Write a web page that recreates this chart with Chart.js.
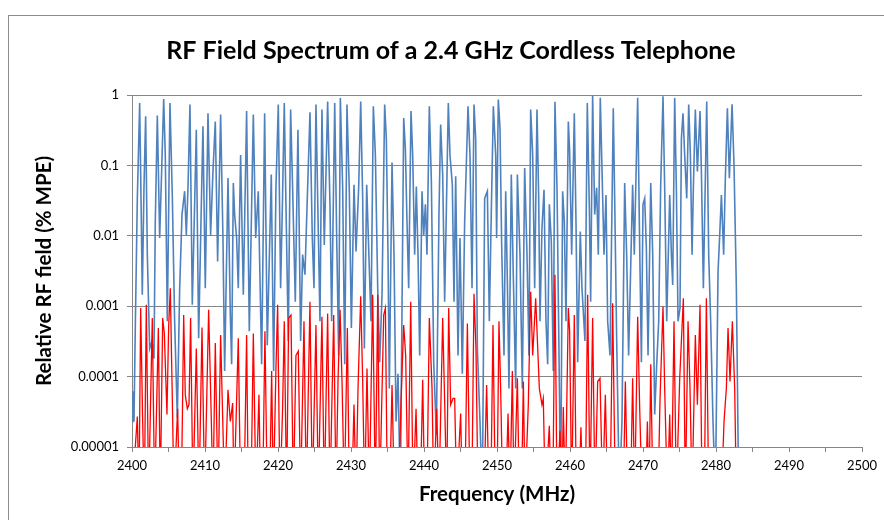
<!DOCTYPE html>
<html><head><meta charset="utf-8">
<script src="https://cdn.jsdelivr.net/npm/chart.js@4.4.1/dist/chart.umd.min.js"></script>
<style>
html,body{margin:0;padding:0;background:#fff;}
#wrap{position:relative;width:884px;height:520px;overflow:hidden;background:#fff;}
#frame{position:absolute;left:8px;top:15px;width:900px;height:600px;border-left:1px solid #8c8c8c;border-top:1px solid #8c8c8c;}
canvas{position:absolute;left:0;top:0;}
</style></head><body>
<div id="wrap"><div id="frame"></div><canvas id="c" width="884" height="520"></canvas></div>
<script>
const chartTitle = 'RF Field Spectrum of a 2.4 GHz Cordless Telephone';
const xTitle = 'Frequency (MHz)';
const yTitle = 'Relative RF field (% MPE)';
const xTickMarks = [2400,2405,2410,2415,2420,2425,2430,2435,2440,2445,2450,2455,2460,2465,2470,2475,2480,2485,2490,2495,2500];
const xTickLabels = [2400,2410,2420,2430,2440,2450,2460,2470,2480,2490,2500];
const yTicks = [1, 0.1, 0.01, 0.001, 0.0001, 0.00001];
const yTickLabels = ['1','0.1','0.01','0.001','0.0001','0.00001'];

// [frequency MHz, relative field]
const bluePoints = [
[2400.00,2.3e-5],[2400.13,6.2e-5],[2400.27,2.3e-5],[2400.45,4.9e-4],[2400.73,0.034],[2401.05,0.77],[2401.28,0.016],[2401.41,0.00145],[2401.64,0.048],[2401.87,0.50],
[2402.10,0.0054],[2402.42,0.00025],[2402.74,0.00032],[2403.01,0.00018],[2403.19,0.016],[2403.47,0.51],[2403.79,0.0093],[2404.06,0.082],[2404.34,0.88],[2404.56,0.14],
[2404.84,0.00061],[2405.20,0.77],[2405.52,0.038],[2405.84,0.00061],[2406.21,2.6e-5],[2406.53,0.0018],[2406.85,0.020],[2407.21,0.043],[2407.44,0.0103],[2407.67,0.048],
[2407.94,0.73],[2408.26,0.00105],[2408.58,0.028],[2408.81,0.32],[2409.13,0.00035],[2409.45,0.016],[2409.72,0.36],[2410.04,0.0018],[2410.41,0.55],[2410.77,0.0103],
[2411.09,0.082],[2411.41,0.42],[2411.73,0.0043],[2412.14,0.53],[2412.46,0.0093],[2412.69,0.00012],[2413.15,0.066],[2413.47,0.00075],[2413.65,0.00015],[2413.88,0.056],
[2414.06,0.020],[2414.33,0.0093],[2414.56,0.0018],[2414.88,0.14],[2415.25,0.00145],[2415.70,0.59],[2416.07,0.00044],[2416.62,0.53],[2416.94,0.0093],[2417.30,0.043],
[2417.76,0.00015],[2418.17,0.55],[2418.53,0.00028],[2419.08,0.074],[2419.40,0.00012],[2419.72,0.048],[2420.04,0.73],[2420.36,0.0018],[2420.63,0.038],[2420.86,0.77],
[2421.09,0.028],[2421.41,0.00032],[2421.73,0.62],[2422.00,0.048],[2422.37,0.00116],[2422.73,0.32],[2423.10,0.00032],[2423.37,0.0054],[2423.69,0.0028],[2424.38,0.57],
[2424.70,0.0093],[2424.93,0.0018],[2425.20,0.73],[2425.52,0.0115],[2425.75,0.00061],[2426.02,0.62],[2426.34,0.0074],[2426.80,0.81],[2427.12,0.028],[2427.35,0.00061],
[2427.77,0.77],[2428.04,0.0093],[2428.31,0.0002],[2428.54,0.91],[2428.86,0.048],[2429.14,0.00015],[2429.45,0.73],[2429.77,0.043],[2430.05,0.00049],[2430.41,0.053],
[2430.69,0.0060],[2431.05,0.048],[2431.33,0.81],[2431.60,0.034],[2431.83,0.00025],[2432.15,0.053],[2432.42,0.0067],[2432.74,0.00061],[2433.06,0.69],[2433.34,0.14],
[2433.66,0.0018],[2433.93,0.00016],[2434.25,0.00145],[2434.61,0.73],[2434.84,0.24],[2435.07,0.0054],[2435.25,6.8e-5],[2435.62,0.11],[2435.89,0.0054],[2436.17,2.3e-5],
[2436.44,0.00011],[2436.76,2e-6],[2437.22,0.47],[2437.45,0.17],[2437.67,0.016],[2437.90,0.0018],[2438.22,0.59],[2438.45,0.14],[2438.72,0.0054],[2438.95,0.050],
[2439.18,0.0054],[2439.41,0.0002],[2439.73,0.043],[2439.96,0.0103],[2440.19,0.028],[2440.41,0.0054],[2440.73,0.69],[2441.01,0.059],[2441.33,0.00016],[2441.69,1.5e-5],
[2442.05,0.020],[2442.28,0.38],[2442.56,0.074],[2442.83,0.00116],[2443.11,0.043],[2443.33,0.77],[2443.56,0.14],[2443.88,0.053],[2444.11,0.00116],[2444.34,0.070],
[2444.66,0.0002],[2444.93,0.0093],[2445.25,0.00011],[2445.57,0.016],[2446.03,0.69],[2446.30,0.14],[2446.58,0.0018],[2446.85,0.73],[2447.08,0.24],[2447.31,0.00025],
[2447.67,2.3e-5],[2447.99,2e-6],[2448.31,0.034],[2448.68,0.043],[2448.95,0.00061],[2449.22,0.022],[2449.50,0.69],[2449.82,0.14],[2449.95,0.0093],[2450.18,0.86],
[2450.41,0.34],[2450.64,0.0074],[2450.96,0.0002],[2451.19,0.043],[2451.42,0.0022],[2451.64,6.8e-5],[2451.96,0.074],[2452.24,0.0025],[2452.56,6.8e-5],[2452.79,0.074],
[2453.15,0.0054],[2453.47,6.8e-5],[2453.79,0.092],[2454.11,0.0054],[2454.38,0.0002],[2454.61,0.62],[2454.89,0.14],[2455.16,0.0018],[2455.48,0.62],[2455.71,0.034],
[2455.89,0.00061],[2456.16,0.013],[2456.44,0.045],[2456.71,0.00061],[2456.94,0.00015],[2457.17,0.028],[2457.44,0.0083],[2457.71,0.00012],[2457.94,0.80],[2458.22,0.048],
[2458.44,0.00061],[2458.72,2e-6],[2458.99,0.043],[2459.22,0.016],[2459.45,0.00061],[2459.77,0.42],[2459.95,0.16],[2460.23,0.0054],[2460.59,0.55],[2460.82,0.016],
[2461.05,0.00016],[2461.41,0.0115],[2461.64,0.0018],[2462.05,0.00032],[2462.37,0.77],[2462.65,0.025],[2462.83,0.00116],[2463.10,0.98],[2463.38,0.020],[2463.65,0.048],
[2463.88,0.0054],[2464.15,0.91],[2464.38,0.092],[2464.66,0.0054],[2464.93,0.038],[2465.16,0.00061],[2465.48,0.0002],[2465.93,0.65],[2466.12,0.034],[2466.39,0.00035],
[2466.76,2e-6],[2467.12,2.3e-5],[2467.49,0.056],[2467.76,0.0054],[2468.03,0.0002],[2468.58,0.053],[2468.81,0.0054],[2469.04,0.070],[2469.27,0.91],[2469.55,0.0067],
[2469.78,0.00016],[2470.00,0.028],[2470.23,0.034],[2470.46,0.0067],[2470.69,0.0002],[2471.06,0.056],[2471.33,0.0054],[2471.60,2.9e-5],[2471.88,0.00015],[2472.15,0.00061],
[2472.42,0.050],[2472.74,0.96],[2472.97,0.048],[2473.25,0.00061],[2473.66,0.038],[2473.89,0.0054],[2474.07,0.0020],[2474.34,0.91],[2474.57,0.048],[2474.80,0.00061],
[2475.07,0.00094],[2475.26,0.24],[2475.48,0.55],[2475.71,0.14],[2475.99,0.034],[2476.26,0.73],[2476.49,0.14],[2476.72,0.0054],[2476.90,0.048],[2477.17,0.62],
[2477.45,0.082],[2477.81,0.59],[2478.00,0.082],[2478.27,0.0018],[2478.73,0.81],[2479.00,0.0054],[2479.27,0.00061],[2479.59,2.3e-5],[2479.91,2e-6],[2480.28,0.0031],
[2480.51,0.0103],[2480.74,0.038],[2481.05,0.0054],[2481.28,0.066],[2481.56,0.65],[2481.83,0.066],[2482.20,0.74],[2482.47,0.10],[2482.79,0.0018],[2483.11,2e-6]
];

const redPoints = [
[2400.00,2e-6],[2400.73,2.7e-5],[2400.96,2e-6],[2401.19,0.00094],[2401.46,2.3e-5],[2401.69,2e-6],[2401.96,0.00105],[2402.28,2e-6],[2402.78,0.00068],[2403.10,2e-6],
[2403.61,0.00049],[2403.88,2e-6],[2404.20,0.00068],[2404.43,0.00041],[2404.79,2.9e-5],[2405.02,0.00051],[2405.25,0.0018],[2405.48,8.5e-5],[2405.75,2e-6],[2406.25,3.5e-5],
[2406.50,2e-6],[2406.76,2e-6],[2407.08,0.00075],[2407.30,5.5e-5],[2407.58,3.5e-5],[2407.81,4e-5],[2408.03,0.00068],[2408.35,2e-6],[2408.81,0.00025],[2409.18,2e-6],
[2409.59,0.0005],[2409.95,2e-6],[2410.50,0.00089],[2410.87,2.3e-5],[2411.09,2e-6],[2411.41,0.0003],[2411.78,2e-6],[2412.14,0.00039],[2412.69,2e-6],[2413.15,6.5e-5],
[2413.47,2.3e-5],[2413.79,4.2e-5],[2413.97,2e-6],[2414.56,0.00035],[2414.88,2e-6],[2415.35,2e-6],[2415.70,0.00039],[2415.93,2e-6],[2416.30,2e-6],[2416.62,0.00041],
[2416.98,2e-6],[2417.39,5.5e-5],[2417.62,2e-6],[2417.90,2e-6],[2418.21,0.00044],[2418.53,2e-6],[2418.85,2e-6],[2419.13,0.00012],[2419.36,2e-6],[2419.72,0.00013],
[2419.95,0.00105],[2420.27,2e-6],[2420.63,3.5e-5],[2420.86,0.00061],[2421.18,2e-6],[2421.46,0.00068],[2421.78,0.00075],[2422.10,2e-6],[2422.46,0.0002],[2422.78,0.00023],
[2423.10,2e-6],[2423.56,0.00061],[2423.88,2e-6],[2424.38,0.00116],[2424.70,2e-6],[2425.20,0.00054],[2425.52,2e-6],[2426.02,0.00071],[2426.34,2e-6],[2426.80,0.00079],
[2427.12,2e-6],[2427.63,0.00075],[2427.95,2e-6],[2428.22,8.5e-5],[2428.50,0.00089],[2428.77,8.5e-5],[2429.09,2e-6],[2429.50,0.00049],[2429.77,2e-6],[2430.10,2e-6],
[2430.41,4e-5],[2430.69,2e-6],[2430.96,6.8e-5],[2431.33,0.00138],[2431.60,8.5e-5],[2431.87,2e-6],[2432.19,0.00013],[2432.51,2e-6],[2432.97,0.00145],[2433.34,2e-6],
[2433.66,0.00145],[2433.93,2e-6],[2434.48,0.00075],[2434.71,0.00094],[2434.98,2e-6],[2435.30,2e-6],[2435.62,7.6e-5],[2435.94,2e-6],[2436.50,2e-6],[2436.85,4.4e-5],
[2437.22,0.00054],[2437.49,0.0002],[2437.81,2e-6],[2438.18,0.00116],[2438.50,2e-6],[2438.91,3.5e-5],[2439.18,2e-6],[2439.50,2e-6],[2439.82,9e-5],[2440.09,2e-6],
[2440.40,2e-6],[2440.73,0.00068],[2441.10,6.8e-5],[2441.33,2e-6],[2441.74,3.5e-5],[2442.05,2e-6],[2442.56,0.00068],[2442.83,4.4e-5],[2443.11,2e-6],[2443.38,0.00094],
[2443.65,4e-5],[2443.97,4.9e-5],[2444.20,4.9e-5],[2444.48,2e-6],[2445.02,3e-5],[2445.25,2e-6],[2445.60,2e-6],[2445.94,0.00057],[2446.30,2e-6],[2446.55,2e-6],
[2446.85,0.0015],[2447.12,0.00025],[2447.40,2e-6],[2448.22,2e-6],[2448.58,7.6e-5],[2448.90,2e-6],[2449.15,2e-6],[2449.45,0.00054],[2449.77,2e-6],[2450.00,2e-6],
[2450.27,0.00061],[2450.50,6.8e-5],[2450.78,2e-6],[2451.20,2e-6],[2451.51,3e-5],[2451.78,2e-6],[2452.10,0.00012],[2452.33,2e-6],[2452.79,9.5e-5],[2453.06,2e-6],
[2453.35,2e-6],[2453.61,8.5e-5],[2453.84,2e-6],[2454.29,4e-5],[2454.61,0.0016],[2454.89,0.0002],[2455.30,0.0013],[2455.80,6.8e-5],[2456.16,4e-5],[2456.34,4.9e-5],
[2456.62,2e-6],[2457.17,2e-5],[2457.39,2e-6],[2457.65,2e-6],[2457.94,0.0028],[2458.22,2e-6],[2458.63,1.7e-5],[2458.90,2e-6],[2459.08,3.7e-5],[2459.36,2e-6],
[2459.77,0.00094],[2459.95,0.00044],[2460.23,2e-6],[2460.59,0.00075],[2460.87,2e-6],[2461.20,2e-6],[2461.50,1.9e-5],[2461.73,2e-6],[2462.10,2e-6],[2462.42,0.00145],
[2462.74,2e-6],[2463.10,0.00068],[2463.42,2e-6],[2463.79,8.5e-5],[2464.11,9.5e-5],[2464.47,2e-6],[2464.84,5.5e-5],[2465.16,2e-6],[2465.50,2e-6],[2465.84,0.0011],
[2466.21,2e-6],[2467.30,2e-6],[2467.58,8.5e-5],[2467.90,2e-6],[2468.30,2e-6],[2468.58,9.5e-5],[2468.86,2e-6],[2469.27,0.00071],[2469.55,3.5e-5],[2469.87,2e-6],
[2470.35,2e-6],[2470.60,2.3e-5],[2470.83,2e-6],[2471.06,0.00015],[2471.37,2e-6],[2472.06,2e-6],[2472.33,4.7e-5],[2472.74,0.00099],[2472.97,6.8e-5],[2473.34,2e-6],
[2473.66,2.9e-5],[2473.89,2e-6],[2474.25,0.00061],[2474.57,2e-6],[2475.03,9.5e-5],[2475.26,0.00032],[2475.53,0.0013],[2475.80,2e-6],[2476.17,0.00061],[2476.44,6.8e-5],
[2476.72,2e-6],[2477.17,0.00039],[2477.45,4e-5],[2477.81,0.00105],[2478.09,2e-6],[2478.40,2e-6],[2478.68,0.0013],[2479.00,2e-6],[2480.74,2e-6],[2481.10,2.3e-5],
[2481.42,6.8e-5],[2481.65,0.00049],[2481.92,8.5e-5],[2482.24,0.00061],[2482.56,6.8e-5],[2482.79,2e-6]
];

const toXY = pts => pts.map(p => ({x: p[0], y: p[1]}));
const FONT = 'Lato, "Open Sans", sans-serif';
const gridGray = '#878787';

new Chart(document.getElementById('c').getContext('2d'), {
  type: 'line',
  data: {
    datasets: [
      {label: 'Red', data: toXY(redPoints), borderColor: '#ff0000', borderWidth: 1.3, pointRadius: 0, tension: 0, fill: false},
      {label: 'Blue', data: toXY(bluePoints), borderColor: '#4f81bd', borderWidth: 1.6, pointRadius: 0, tension: 0, fill: false}
    ]
  },
  options: {
    responsive: false, animation: false, devicePixelRatio: 1,
    layout: {padding: {left: 40, right: 22, top: 0, bottom: 0}},
    plugins: {
      legend: {display: false}, tooltip: {enabled: false},
      title: {display: true, text: chartTitle, color: '#000',
        font: {family: FONT, size: 25, weight: 'bold'}, padding: {top: 36, bottom: 29}}
    },
    scales: {
      x: {
        type: 'linear', min: 2400, max: 2500,
        afterBuildTicks: s => { s.ticks = xTickMarks.map(v => ({value: v})); },
        afterFit: s => { s.height = 73; },
        ticks: {autoSkip: false, maxRotation: 0, minRotation: 0, color: '#000', padding: 6,
          font: {family: FONT, size: 13},
          callback: v => xTickLabels.includes(v) ? String(v) : ''},
        grid: {drawOnChartArea: false, drawTicks: true, tickLength: 5, color: gridGray},
        border: {display: true, color: gridGray, width: 1},
        title: {display: true, text: xTitle, color: '#000', font: {family: FONT, size: 20.5, weight: 'bold'}, padding: {top: 0, bottom: 13.7}}
      },
      y: {
        type: 'logarithmic', min: 0.00001, max: 1,
        afterBuildTicks: s => { s.ticks = yTicks.map(v => ({value: v})); },
        afterFit: s => { s.width = 92; },
        ticks: {color: '#000', padding: 8, font: {family: FONT, size: 13},
          callback: v => { const i = yTicks.indexOf(v); return i >= 0 ? yTickLabels[i] : ''; }},
        grid: {color: gridGray, lineWidth: 1, drawTicks: true, tickLength: 5},
        border: {display: true, color: gridGray, width: 1},
        title: {display: true, text: yTitle, color: '#000', font: {family: FONT, size: 20.5, weight: 'bold'}, padding: {top: -8.3, bottom: 0}}
      }
    }
  }
});
</script>
</body></html>
